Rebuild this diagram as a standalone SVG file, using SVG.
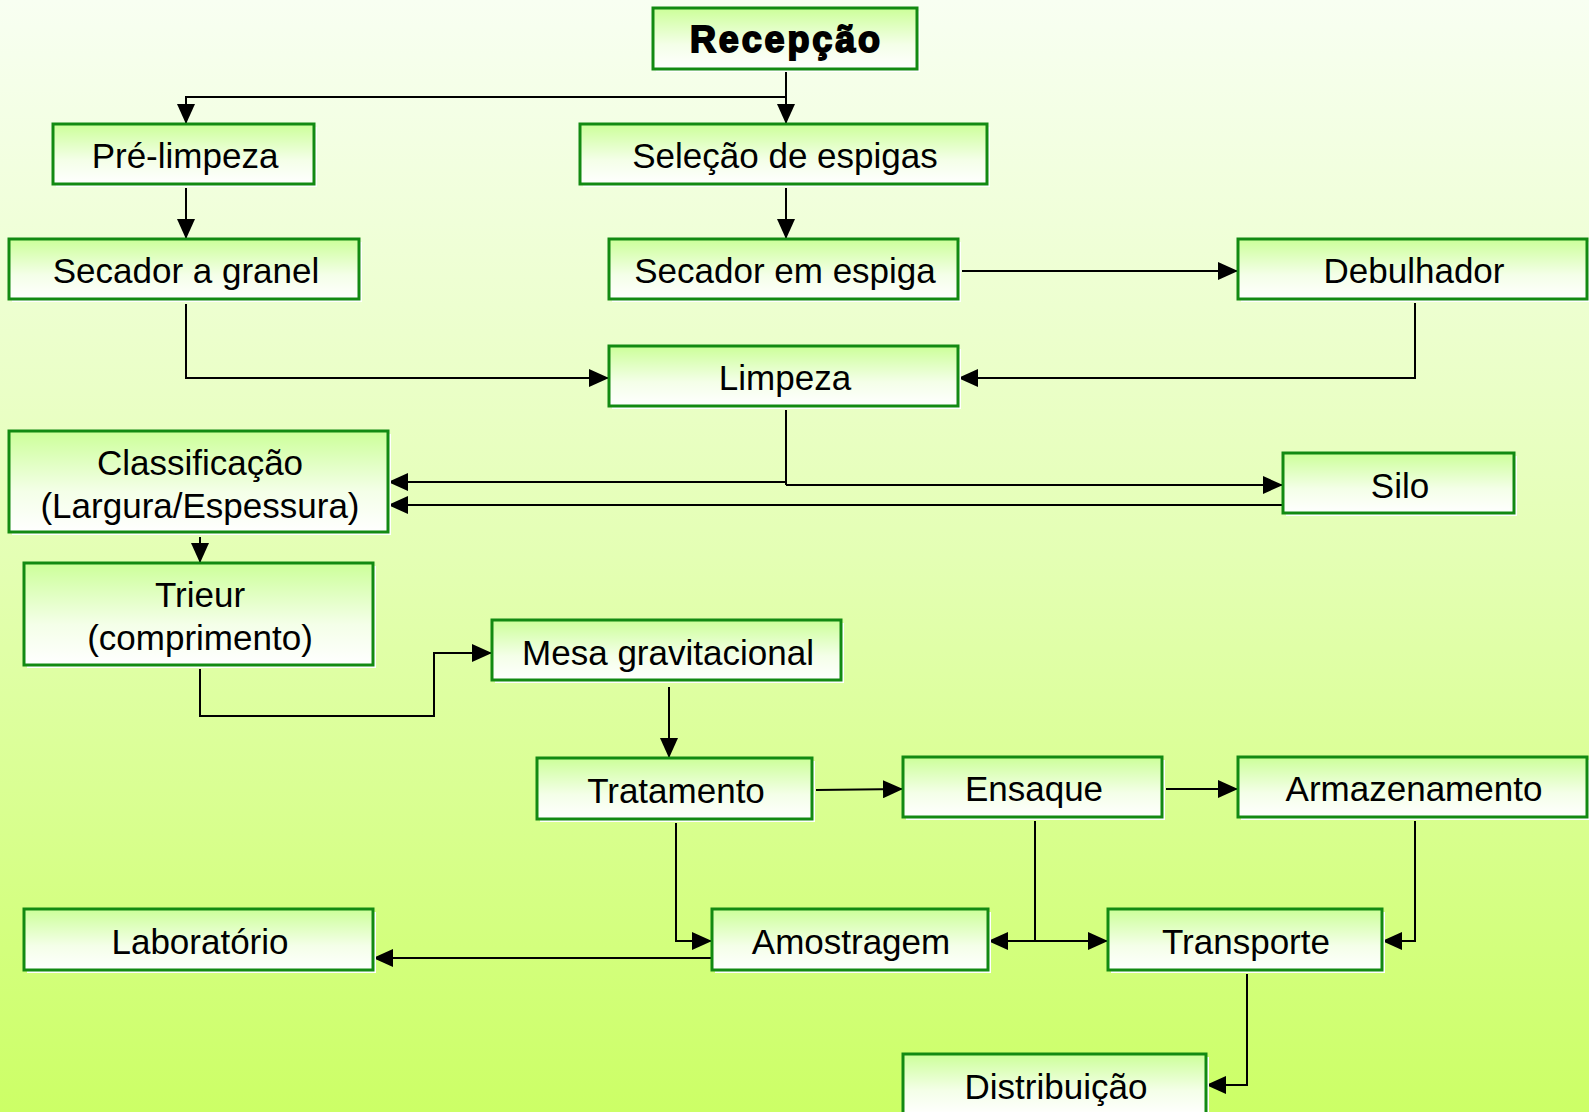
<svg xmlns="http://www.w3.org/2000/svg" width="1589" height="1112" viewBox="0 0 1589 1112">
<defs>
<linearGradient id="bg" x1="0" y1="0" x2="0" y2="1">
<stop offset="0" stop-color="#f8fff2"/>
<stop offset="0.5" stop-color="#e4ffb4"/>
<stop offset="1" stop-color="#ccff66"/>
</linearGradient>
<linearGradient id="box" x1="0" y1="0" x2="0" y2="1">
<stop offset="0" stop-color="#ccff99"/>
<stop offset="0.6" stop-color="#f4ffe8"/>
<stop offset="1" stop-color="#ffffff"/>
</linearGradient>
<marker id="ar" viewBox="0 0 20 18" refX="20" refY="9" markerWidth="20" markerHeight="18" markerUnits="userSpaceOnUse" orient="auto">
<path d="M0,0 L20,9 L0,18 Z" fill="#000"/>
</marker>
<style>
.sh{fill:#ffffff;}
.bx{fill:url(#box);stroke:#128a12;stroke-width:3;}
.t{font-family:"Liberation Sans",Arial,sans-serif;font-size:35px;fill:#000;text-anchor:middle;}
.tb{font-family:"Liberation Sans",Arial,sans-serif;font-size:36px;font-weight:bold;fill:#000;text-anchor:middle;stroke:#000;stroke-width:1.8px;}
.c{fill:none;stroke:#000;stroke-width:2;}
.ca{fill:none;stroke:#000;stroke-width:2;marker-end:url(#ar);}
</style>
</defs>
<rect x="0" y="0" width="1589" height="1112" fill="url(#bg)"/>

<g id="connectors">
<path class="ca" d="M786,69 L786,124"/>
<path class="ca" d="M786,97 L186,97 L186,124"/>
<path class="ca" d="M186,188 L186,239"/>
<path class="ca" d="M786,188 L786,239"/>
<path class="ca" d="M962,271 L1238,271"/>
<path class="ca" d="M186,304 L186,378 L609,378"/>
<path class="ca" d="M1415,303 L1415,378 L958,378"/>
<path class="c" d="M786,410 L786,485"/>
<path class="ca" d="M786,482 L388,482"/>
<path class="ca" d="M786,485 L1283,485"/>
<path class="ca" d="M1283,505 L388,505"/>
<path class="ca" d="M200,537 L200,563"/>
<path class="ca" d="M200,669 L200,716 L434,716 L434,653 L492,653"/>
<path class="ca" d="M669,687 L669,758"/>
<path class="ca" d="M816,790 L903,789"/>
<path class="ca" d="M1166,789 L1238,789"/>
<path class="ca" d="M676,823 L676,941 L712,941"/>
<path class="ca" d="M712,958 L373,958"/>
<path class="c" d="M1035,821 L1035,941"/>
<path class="ca" d="M1035,941 L988,941"/>
<path class="ca" d="M1035,941 L1108,941"/>
<path class="ca" d="M1415,821 L1415,941 L1382,941"/>
<path class="ca" d="M1247,974 L1247,1085 L1206,1085"/>
</g>

<g id="recepcao">
<rect class="sh" x="656" y="11" width="264" height="61"/>
<rect class="bx" x="653" y="8" width="264" height="61"/>
<text class="tb" x="785" y="52" textLength="190" lengthAdjust="spacing">Recepção</text>
</g>
<g id="pre-limpeza">
<rect class="sh" x="56" y="127" width="261" height="60"/>
<rect class="bx" x="53" y="124" width="261" height="60"/>
<text class="t" x="185" y="168">Pré-limpeza</text>
</g>
<g id="selecao">
<rect class="sh" x="583" y="127" width="407" height="60"/>
<rect class="bx" x="580" y="124" width="407" height="60"/>
<text class="t" x="785" y="168">Seleção de espigas</text>
</g>
<g id="secador-granel">
<rect class="sh" x="12" y="242" width="350" height="60"/>
<rect class="bx" x="9" y="239" width="350" height="60"/>
<text class="t" x="186" y="283">Secador a granel</text>
</g>
<g id="secador-espiga">
<rect class="sh" x="612" y="242" width="349" height="60"/>
<rect class="bx" x="609" y="239" width="349" height="60"/>
<text class="t" x="785" y="283">Secador em espiga</text>
</g>
<g id="debulhador">
<rect class="sh" x="1241" y="242" width="350" height="60"/>
<rect class="bx" x="1238" y="239" width="349" height="60"/>
<text class="t" x="1414" y="283">Debulhador</text>
</g>
<g id="limpeza">
<rect class="sh" x="612" y="349" width="349" height="60"/>
<rect class="bx" x="609" y="346" width="349" height="60"/>
<text class="t" x="785" y="390">Limpeza</text>
</g>
<g id="classificacao">
<rect class="sh" x="12" y="434" width="379" height="101"/>
<rect class="bx" x="9" y="431" width="379" height="101"/>
<text class="t" x="200" y="475">Classificação</text>
<text class="t" x="200" y="518">(Largura/Espessura)</text>
</g>
<g id="silo">
<rect class="sh" x="1286" y="456" width="231" height="60"/>
<rect class="bx" x="1283" y="453" width="231" height="60"/>
<text class="t" x="1400" y="498">Silo</text>
</g>
<g id="trieur">
<rect class="sh" x="27" y="566" width="349" height="102"/>
<rect class="bx" x="24" y="563" width="349" height="102"/>
<text class="t" x="200" y="607">Trieur</text>
<text class="t" x="200" y="650">(comprimento)</text>
</g>
<g id="mesa">
<rect class="sh" x="495" y="623" width="349" height="60"/>
<rect class="bx" x="492" y="620" width="349" height="60"/>
<text class="t" x="668" y="665">Mesa gravitacional</text>
</g>
<g id="tratamento">
<rect class="sh" x="540" y="761" width="275" height="61"/>
<rect class="bx" x="537" y="758" width="275" height="61"/>
<text class="t" x="676" y="803">Tratamento</text>
</g>
<g id="ensaque">
<rect class="sh" x="906" y="760" width="259" height="60"/>
<rect class="bx" x="903" y="757" width="259" height="60"/>
<text class="t" x="1034" y="801">Ensaque</text>
</g>
<g id="armazenamento">
<rect class="sh" x="1241" y="760" width="349" height="60"/>
<rect class="bx" x="1238" y="757" width="349" height="60"/>
<text class="t" x="1414" y="801">Armazenamento</text>
</g>
<g id="laboratorio">
<rect class="sh" x="27" y="912" width="349" height="61"/>
<rect class="bx" x="24" y="909" width="349" height="61"/>
<text class="t" x="200" y="954">Laboratório</text>
</g>
<g id="amostragem">
<rect class="sh" x="715" y="912" width="276" height="61"/>
<rect class="bx" x="712" y="909" width="276" height="61"/>
<text class="t" x="851" y="954">Amostragem</text>
</g>
<g id="transporte">
<rect class="sh" x="1111" y="912" width="274" height="61"/>
<rect class="bx" x="1108" y="909" width="274" height="61"/>
<text class="t" x="1246" y="954">Transporte</text>
</g>
<g id="distribuicao">
<rect class="sh" x="906" y="1057" width="303" height="61"/>
<rect class="bx" x="903" y="1054" width="303" height="61"/>
<text class="t" x="1056" y="1099">Distribuição</text>
</g>
</svg>
